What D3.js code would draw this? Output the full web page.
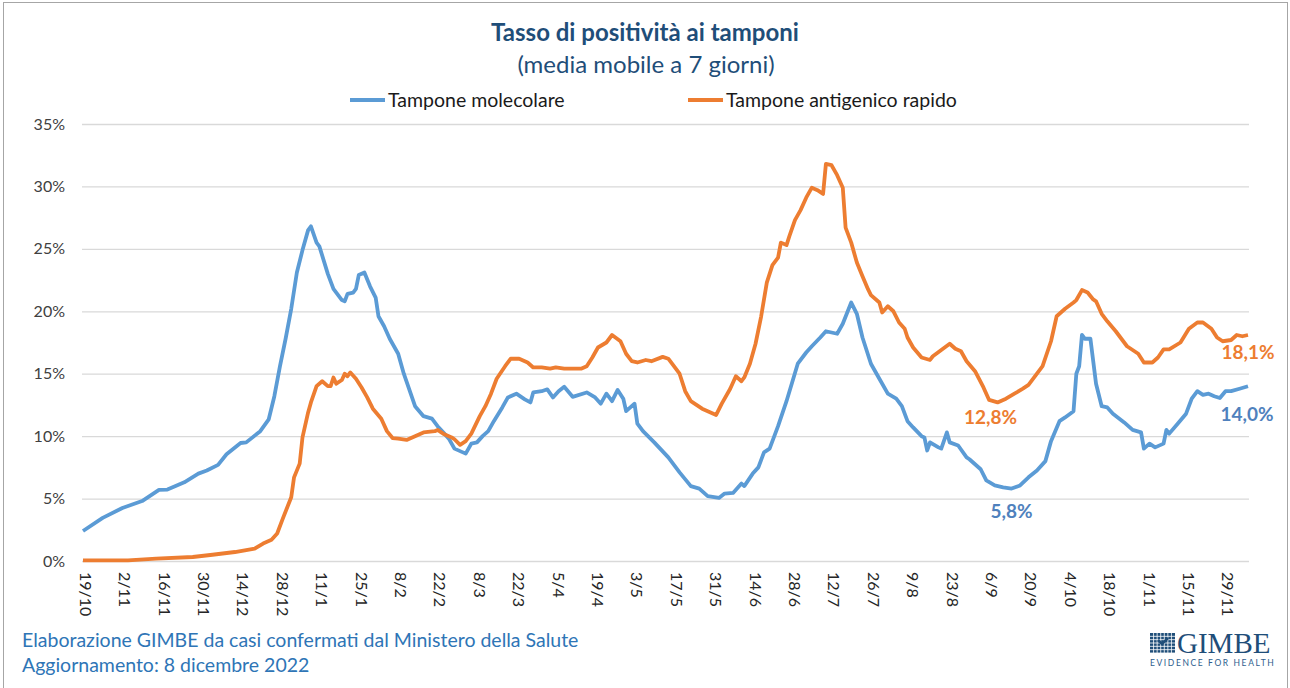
<!DOCTYPE html>
<html>
<head>
<meta charset="utf-8">
<script src="https://cdn.jsdelivr.net/npm/d3@7"></script>
<style>
  body { margin: 0; background: #fff; }
  svg { display: block; font-family: Lato, "Open Sans", sans-serif; }
</style>
</head>
<body>
<svg id="chart" width="1290" height="688"></svg>
<script>
// days are counted from 19/10/2021 (first point of both series)
const startDate = new Date(2021, 9, 19);
const endDate = new Date(2022, 11, 7);

const xTickLabels = ["19/10", "2/11", "16/11", "30/11", "14/12", "28/12", "11/1", "25/1", "8/2", "22/2",
  "8/3", "22/3", "5/4", "19/4", "3/5", "17/5", "31/5", "14/6", "28/6", "12/7", "26/7", "9/8", "23/8",
  "6/9", "20/9", "4/10", "18/10", "1/11", "15/11", "29/11"];
const yTicks = [0, 5, 10, 15, 20, 25, 30, 35];

// Tampone molecolare (%)
const molDays = [0, 7, 14, 21, 27, 30, 36, 41, 44, 48, 51, 56, 58, 63, 66, 68, 70, 72, 74, 76, 78, 80, 81,
  83, 84, 87, 89, 92, 93, 94, 96, 97, 98, 100, 102, 104, 105, 107, 109, 112, 114, 116, 118, 121, 124, 126,
  128, 130, 132, 134, 136, 138, 140, 142, 144, 146, 149, 151, 154, 157, 159, 160, 163, 165, 167, 169, 171,
  174, 179, 182, 184, 186, 188, 190, 192, 193, 196, 197, 199, 203, 208, 212, 216, 219, 222, 226, 228, 231,
  234, 235, 238, 240, 242, 244, 247, 250, 252, 254, 257, 259, 262, 264, 268, 270, 273, 275, 277, 280, 283,
  286, 289, 291, 293, 295, 298, 299, 300, 301, 304, 305, 307, 308, 311, 314, 315, 319, 321, 324, 327, 330,
  333, 336, 339, 342, 344, 347, 349, 352, 353, 354, 355, 356, 358, 360, 362, 364, 366, 370, 373, 376, 377,
  379, 381, 384, 385, 386, 389, 392, 394, 396, 398, 400, 402, 404, 406, 408, 411, 414];
const molValues = [2.4, 3.45, 4.25, 4.8, 5.7, 5.72, 6.3, 7.0, 7.25, 7.7, 8.55, 9.45, 9.5, 10.4, 11.35, 13.2,
  15.6, 17.8, 20.2, 23.1, 24.9, 26.5, 26.8, 25.5, 25.2, 23.0, 21.8, 20.9, 20.8, 21.4, 21.5, 21.8, 22.9, 23.1,
  22.0, 21.1, 19.6, 18.8, 17.8, 16.6, 15.0, 13.7, 12.4, 11.6, 11.4, 10.8, 10.3, 9.8, 9.0, 8.8, 8.6, 9.4, 9.5,
  10.0, 10.4, 11.2, 12.3, 13.1, 13.4, 12.95, 12.7, 13.5, 13.6, 13.75, 13.1, 13.6, 13.95, 13.15, 13.5, 13.1,
  12.6, 13.4, 12.8, 13.7, 13.0, 12.0, 12.6, 11.0, 10.4, 9.5, 8.3, 7.1, 6.0, 5.8, 5.2, 5.05, 5.4, 5.45, 6.2,
  6.0, 7.0, 7.5, 8.7, 9.0, 10.8, 12.8, 14.3, 15.8, 16.7, 17.2, 17.9, 18.4, 18.2, 19.0, 20.7, 19.8, 17.9, 15.8,
  14.6, 13.4, 13.0, 12.4, 11.2, 10.7, 10.0, 9.9, 8.85, 9.5, 9.1, 9.0, 10.3, 9.5, 9.25, 8.3, 8.15, 7.35, 6.45,
  6.05, 5.9, 5.8, 6.05, 6.7, 7.25, 8.0, 9.6, 11.2, 11.5, 12.0, 15.0, 15.6, 18.1, 17.8, 17.8, 14.2, 12.4, 12.3,
  11.8, 11.1, 10.5, 10.3, 9.0, 9.4, 9.1, 9.4, 10.5, 10.2, 11.0, 11.8, 13.0, 13.6, 13.3, 13.4, 13.2, 13.05,
  13.6, 13.6, 13.8, 14.0];

// Tampone antigenico rapido (%)
const antDays = [0, 16, 26, 39, 46, 54, 61, 64, 67, 69, 71, 74, 75, 77, 78, 80, 81, 83, 85, 87, 88, 89, 90,
  92, 93, 94, 95, 97, 99, 101, 103, 106, 108, 110, 112, 115, 118, 121, 125, 126, 128, 131, 132, 134, 136,
  138, 141, 143, 145, 147, 150, 152, 155, 158, 160, 163, 166, 168, 171, 174, 177, 179, 181, 183, 186, 188,
  191, 193, 195, 197, 200, 202, 206, 208, 210, 212, 214, 216, 218, 220, 222, 225, 227, 230, 232, 234, 235,
  237, 239, 241, 243, 245, 247, 248, 250, 251, 253, 255, 257, 259, 261, 263, 264, 266, 268, 270, 271, 273,
  275, 277, 279, 280, 283, 284, 286, 288, 290, 292, 293, 295, 298, 301, 302, 305, 308, 310, 312, 314, 317,
  320, 322, 325, 328, 331, 334, 336, 338, 341, 344, 346, 349, 352, 353, 355, 357, 359, 360, 362, 364, 367,
  371, 375, 377, 380, 382, 384, 386, 390, 393, 396, 398, 401, 403, 405, 408, 410, 412, 414];
const antValues = [0.05, 0.05, 0.19, 0.32, 0.5, 0.72, 1.0, 1.4, 1.7, 2.2, 3.4, 5.1, 6.7, 7.8, 9.9, 11.9, 12.7,
  14.0, 14.4, 14.0, 14.0, 14.7, 14.2, 14.5, 15.0, 14.8, 15.1, 14.6, 13.9, 13.1, 12.2, 11.4, 10.4, 9.85, 9.8,
  9.7, 10.0, 10.3, 10.4, 10.5, 10.2, 9.9, 9.75, 9.3, 9.6, 10.2, 11.6, 12.4, 13.4, 14.6, 15.6, 16.2, 16.2,
  15.9, 15.5, 15.5, 15.4, 15.5, 15.4, 15.4, 15.4, 15.6, 16.3, 17.1, 17.5, 18.1, 17.6, 16.6, 16.0, 15.9, 16.1,
  16.0, 16.35, 16.2, 15.6, 15.0, 13.6, 12.8, 12.5, 12.2, 12.0, 11.7, 12.6, 13.8, 14.8, 14.4, 14.7, 15.8, 17.4,
  19.6, 22.3, 23.7, 24.3, 25.5, 25.3, 26.0, 27.3, 28.1, 29.1, 29.9, 29.7, 29.4, 31.8, 31.7, 30.9, 29.9, 26.7,
  25.5, 23.9, 22.8, 21.75, 21.3, 20.7, 19.9, 20.4, 20.0, 19.1, 18.6, 17.9, 17.1, 16.3, 16.1, 16.4, 16.9, 17.4,
  17.0, 16.8, 16.0, 15.2, 13.9, 12.9, 12.7, 13.0, 13.4, 13.8, 14.1, 14.7, 15.6, 17.6, 19.6, 20.2, 20.7, 20.9,
  21.7, 21.5, 20.95, 20.8, 19.8, 19.2, 18.4, 17.2, 16.6, 15.9, 15.9, 16.3, 16.95, 16.95, 17.5, 18.6, 19.1,
  19.1, 18.6, 17.9, 17.6, 17.7, 18.1, 18.0, 18.1];

// value labels written on the chart
const annotations = [
  { series: "ant", day: 325, text: "12,8%" },
  { series: "mol", day: 330, text: "5,8%" },
  { series: "ant", day: 414, text: "18,1%" },
  { series: "mol", day: 414, text: "14,0%" }
];
// label offsets from the point (px)
const annotationOffsets = [[-7, 22], [0, 29], [0, 24], [-1, 35]];

const blue = "#5B9BD5", orange = "#ED7D31";
const svg = d3.select("#chart");
const margin = { top: 124, right: 42, bottom: 127, left: 83 };
const W = 1290, H = 688;

svg.append("rect").attr("x", 3.5).attr("y", 2.5).attr("width", 1284).attr("height", 700)
  .attr("fill", "#fff").attr("stroke", "#a6a6a6").attr("stroke-width", 1);

const x = d3.scaleTime().domain([startDate, endDate]).range([margin.left, W - margin.right]);
const y = d3.scaleLinear().domain([0, 35]).range([H - margin.bottom, margin.top]);
const dayDate = d => d3.timeDay.offset(startDate, d);

// grid + y axis
svg.append("g")
  .attr("transform", `translate(${margin.left - 1},0)`)
  .call(d3.axisLeft(y).tickValues(yTicks).tickFormat(d => d + "%")
    .tickSize(-(W - margin.left - margin.right + 2)).tickPadding(17))
  .call(g => g.select(".domain").remove())
  .call(g => g.selectAll("line").attr("stroke", "#d9d9d9").attr("stroke-width", 1.3))
  .call(g => g.selectAll("text").attr("fill", "#404040").style("font-size", "16px")
    .style("font-family", "Lato, sans-serif"));

// x axis (rotated labels)
const tickDates = xTickLabels.map((_, i) => dayDate(14 * i));
svg.append("g")
  .attr("transform", `translate(0,${H - margin.bottom})`)
  .call(d3.axisBottom(x).tickValues(tickDates).tickFormat((d, i) => xTickLabels[i]).tickSize(0))
  .call(g => g.select(".domain").remove())
  .call(g => g.selectAll("text")
    .attr("transform", "rotate(90)").attr("x", 11).attr("y", -2).attr("dy", "0.35em")
    .style("text-anchor", "start").attr("fill", "#262626").style("font-size", "16px")
    .style("font-family", "Lato, sans-serif"));

const line = d3.line().x(d => x(dayDate(d[0]))).y(d => y(d[1]));
const molData = molDays.map((d, i) => [d, molValues[i]]);
const antData = antDays.map((d, i) => [d, antValues[i]]);

svg.append("path").datum(molData).attr("d", line).attr("fill", "none")
  .attr("stroke", blue).attr("stroke-width", 3.8).attr("stroke-linejoin", "round");
svg.append("path").datum(antData).attr("d", line).attr("fill", "none")
  .attr("stroke", orange).attr("stroke-width", 3.8).attr("stroke-linejoin", "round");

// data labels
const valueAt = (s, day) => {
  const days = s === "mol" ? molDays : antDays, vals = s === "mol" ? molValues : antValues;
  return vals[days.indexOf(day)];
};
annotations.forEach((a, i) => {
  const v = valueAt(a.series, a.day);
  svg.append("text")
    .attr("x", x(dayDate(a.day)) + annotationOffsets[i][0])
    .attr("y", y(v) + annotationOffsets[i][1])
    .attr("text-anchor", "middle")
    .attr("fill", a.series === "mol" ? "#4F81BD" : orange)
    .style("font-size", "19px").style("font-weight", 700)
    .text(a.text);
});

// title
svg.append("text").attr("x", 645).attr("y", 41).attr("text-anchor", "middle")
  .attr("fill", "#1F4E79").style("font-size", "24px").style("font-weight", 700)
  .text("Tasso di positività ai tamponi");
svg.append("text").attr("x", 646).attr("y", 73).attr("text-anchor", "middle")
  .attr("fill", "#1F4E79").style("font-size", "24px")
  .text("(media mobile a 7 giorni)");

// legend
const legend = [
  { label: "Tampone molecolare", color: blue, x: 350 },
  { label: "Tampone antigenico rapido", color: orange, x: 688 }
];
legend.forEach(l => {
  svg.append("line").attr("x1", l.x).attr("x2", l.x + 35).attr("y1", 100).attr("y2", 100)
    .attr("stroke", l.color).attr("stroke-width", 4);
  svg.append("text").attr("x", l.x + 38).attr("y", 107).attr("fill", "#1a1a1a")
    .style("font-size", "19.5px").text(l.label);
});

// footer
svg.append("text").attr("x", 22).attr("y", 647).attr("fill", "#2E75B6").style("font-size", "19.5px")
  .text("Elaborazione GIMBE da casi confermati dal Ministero della Salute");
svg.append("text").attr("x", 22).attr("y", 672).attr("fill", "#2E75B6").style("font-size", "19.5px")
  .text("Aggiornamento: 8 dicembre 2022");

// GIMBE logo
const logo = svg.append("g").attr("transform", "translate(1150,633)");
logo.append("rect").attr("width", 25).attr("height", 20).attr("fill", "#1F4E79");
d3.range(1, 7).forEach(i => {
  logo.append("line").attr("x1", i * 25 / 7).attr("x2", i * 25 / 7).attr("y1", 0).attr("y2", 20)
    .attr("stroke", "#fff").attr("stroke-width", 0.8);
  logo.append("line").attr("y1", i * 20 / 6).attr("y2", i * 20 / 6).attr("x1", 0).attr("x2", 25)
    .attr("stroke", "#fff").attr("stroke-width", 0.8);
});
logo.append("path").attr("d", "M8,7 L12,11 L18,5").attr("fill", "none")
  .attr("stroke", "#1F4E79").attr("stroke-width", 2.5);
logo.append("text").attr("x", 27).attr("y", 20).attr("fill", "#1F4E79")
  .style("font-family", "'Liberation Serif', serif").style("font-size", "29px").text("GIMBE");
logo.append("text").attr("x", 0).attr("y", 33).attr("fill", "#2E5E8E")
  .style("font-size", "8.5px").style("letter-spacing", "1.6px").text("EVIDENCE FOR HEALTH");
</script>
</body>
</html>
